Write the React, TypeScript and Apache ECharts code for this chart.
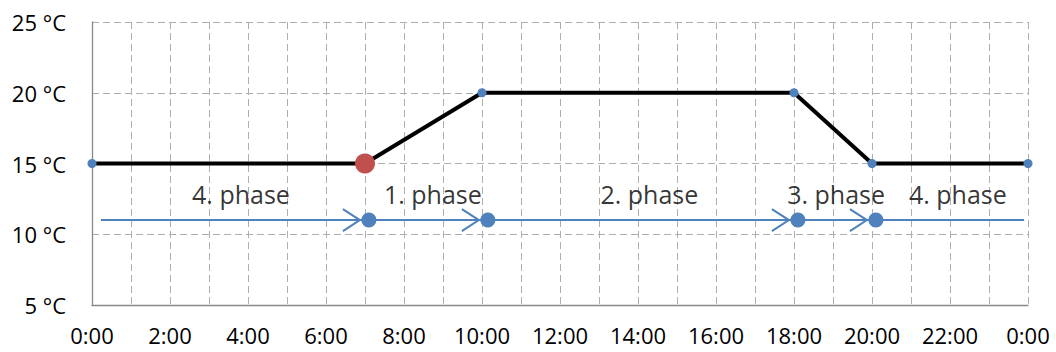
import React, { useEffect, useRef } from "react";
import * as echarts from "echarts";

const tempPoints: number[][] = [[0, 15], [7, 15], [10, 20], [18, 20], [20, 15], [24, 15]];
const highlightIndex = 1;
const phaseLine: number[][] = [[0.23, 11], [7.1, 11], [10.15, 11], [18.1, 11], [20.1, 11], [23.9, 11]];
const phaseMarkers: number[][] = [[7.1, 11], [10.15, 11], [18.1, 11], [20.1, 11]];
const phaseNames: string[] = ["4. phase", "1. phase", "2. phase", "3. phase", "4. phase"];
const phaseLabelX: number[] = [3.82, 8.74, 14.29, 19.08, 22.2];
const phaseLabelY = 12.85;

const FONT = "Open Sans";
const BLUE = "#4F81BD";
const RED = "#C0504D";

export default function App() {
  const ref = useRef<HTMLDivElement>(null);
  useEffect(() => {
    if (!ref.current) return;
    const chart = echarts.init(ref.current, null, { renderer: "svg" });
    const gridDash = { color: "#AEAEAE", width: 1, type: [7, 4] as any };
    chart.setOption({
      animation: false,
      backgroundColor: "#ffffff",
      grid: { left: 92, right: 28, top: 22, bottom: 47, containLabel: false },
      xAxis: {
        type: "value",
        min: 0,
        max: 24,
        interval: 1,
        axisLine: { show: true, lineStyle: { color: "#898989", width: 1.3 } },
        axisTick: { show: false },
        splitLine: { show: true, lineStyle: gridDash },
        axisLabel: {
          margin: 19,
          fontFamily: FONT,
          fontSize: 22,
          color: "#000",
          showMinLabel: true,
          showMaxLabel: true,
          formatter: (v: number) => (Math.round(v) % 2 === 0 ? `${Math.round(v) % 24}:00` : ""),
        },
      },
      yAxis: {
        type: "value",
        min: 5,
        max: 25,
        interval: 5,
        axisLine: { show: true, lineStyle: { color: "#898989", width: 1.3 } },
        axisTick: { show: false },
        splitLine: { show: true, lineStyle: gridDash },
        axisLabel: {
          margin: 26,
          fontFamily: FONT,
          fontSize: 22,
          color: "#000",
          formatter: (v: number) => `${v} °C`,
        },
      },
      series: [
        {
          type: "line",
          data: phaseLine.map((p, i) => ({
            value: p,
            symbol: i === 0 || i === phaseLine.length - 1 ? "none" : "circle",
          })),
          symbolSize: 15,
          lineStyle: { color: BLUE, width: 2 },
          itemStyle: { color: BLUE },
          z: 3,
        },
        {
          type: "custom",
          data: phaseMarkers,
          z: 3,
          renderItem: (params: any, api: any) => {
            const c = api.coord([api.value(0), api.value(1)]);
            const tipX = c[0] - 9;
            return {
              type: "polyline",
              shape: {
                points: [
                  [tipX - 17, c[1] - 11],
                  [tipX, c[1]],
                  [tipX - 17, c[1] + 11],
                ],
              },
              style: { stroke: BLUE, lineWidth: 2, fill: null },
            };
          },
        },
        {
          type: "line",
          data: tempPoints.map((p, i) =>
            i === highlightIndex
              ? { value: p, symbolSize: 20, itemStyle: { color: RED } }
              : { value: p, symbolSize: 9, itemStyle: { color: BLUE } }
          ),
          symbol: "circle",
          lineStyle: { color: "#000", width: 4 },
          z: 4,
        },
        {
          type: "scatter",
          data: phaseLabelX.map((x, i) => ({ value: [x, phaseLabelY], name: phaseNames[i] })),
          symbolSize: 1,
          itemStyle: { color: "rgba(0,0,0,0)" },
          label: {
            show: true,
            position: "inside",
            formatter: (p: any) => p.name,
            fontFamily: FONT,
            fontSize: 25,
            color: "#000",
          },
          z: 5,
        },
      ],
    });
    return () => chart.dispose();
  }, []);
  return (
    <div
      ref={ref}
      style={{ position: "fixed", left: 0, top: 0, width: 1056, height: 352, background: "#fff" }}
    />
  );
}
